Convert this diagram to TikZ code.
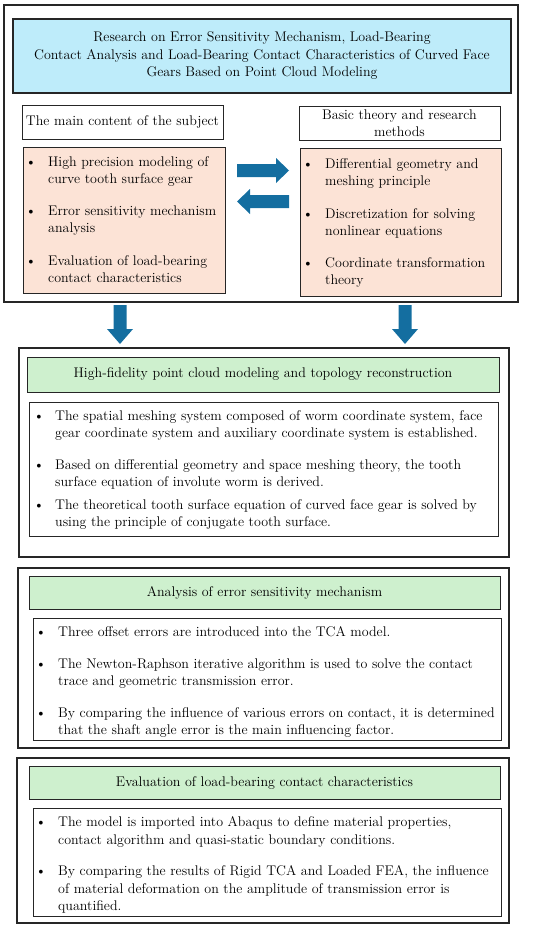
\documentclass[tikz,border=0pt]{standalone}
\usepackage{tikz}
\definecolor{titleblue}{RGB}{190,236,250}
\definecolor{listpink}{RGB}{252,227,214}
\definecolor{headgreen}{RGB}{206,240,206}
\definecolor{arrowblue}{RGB}{20,110,160}
\tikzset{>=stealth,
  outer/.style={draw=black!85, line width=1.2pt},
  frame/.style={draw=black!85, line width=0.9pt},
  hd/.style={frame, align=center, inner sep=0pt},
  bul/.style={anchor=base, inner sep=0pt},
  txt/.style={anchor=north west, align=left, inner sep=0pt},
  blk/.style={fill=arrowblue}}
\newcommand{\bitem}[4]{% bullet x, text x, baseline y, text
  \node[bul] at (#1,#3) {\textbullet};
  \node[txt] at (#2,#3-9.7) {#4};}

\begin{document}
\begin{tikzpicture}[x=1pt, y=-1pt, font=\fontsize{14}{17.5}\selectfont]
    \useasboundingbox (0,0) rectangle (550,931);
    % top part
    \draw[outer] (4,5) rectangle (518,302);
    \node[hd, line width=1.1pt, fill=titleblue, minimum width=498, minimum height=74] (title) at (262,56)
      {Research on Error Sensitivity Mechanism, Load-Bearing\\
       Contact Analysis and Load-Bearing Contact Characteristics of Curved Face\\
       Gears Based on Point Cloud Modeling};
    \node[hd, minimum width=201, minimum height=34] (main) at (122.5,122) {The main content of the subject};
    \node[hd, minimum width=201, minimum height=34] (basic) at (399.5,123) {Basic theory and research\\methods};
    \draw[frame, fill=listpink] (23,147) rectangle (225,293);
    \draw[frame, fill=listpink] (300,148) rectangle (501,296);
    \bitem{31}{48}{166}{High precision modeling of\\curve tooth surface gear}
    \bitem{31}{48}{215}{Error sensitivity mechanism\\analysis}
    \bitem{31}{48}{265}{Evaluation of load-bearing\\contact characteristics}
    \bitem{308}{325}{168}{Differential geometry and\\meshing principle}
    \bitem{308}{325}{218}{Discretization for solving\\nonlinear equations}
    \bitem{308}{325}{267}{Coordinate transformation\\theory}
    % exchange arrows
    \fill[blk] (237,164) -- (276,164) -- (276,158) -- (289,170.5) -- (276,183) -- (276,177) -- (237,177) -- cycle;
    \fill[blk] (289,195) -- (250,195) -- (250,189) -- (237,201.5) -- (250,214) -- (250,208) -- (289,208) -- cycle;
    % down arrows
    \fill[blk] (113.5,305) -- (126.5,305) -- (126.5,329) -- (133,329) -- (120,344) -- (107,329) -- (113.5,329) -- cycle;
    \fill[blk] (398.5,305) -- (411.5,305) -- (411.5,329) -- (418,329) -- (405,344) -- (392,329) -- (398.5,329) -- cycle;
    % point cloud modeling
    \draw[outer] (19,348) rectangle (509,557);
    \node[hd, fill=headgreen, minimum width=472, minimum height=35] (cloud) at (263,374.5)
      {High-fidelity point cloud modeling and topology reconstruction};
    \draw[frame] (29,402) rectangle (498,536);
    \bitem{39}{55}{420}{The spatial meshing system composed of worm coordinate system, face\\
      gear coordinate system and auxiliary coordinate system is established.}
    \bitem{39}{55}{469}{Based on differential geometry and space meshing theory, the tooth\\
      surface equation of involute worm is derived.}
    \bitem{39}{55}{509}{The theoretical tooth surface equation of curved face gear is solved by\\
      using the principle of conjugate tooth surface.}
    % error sensitivity
    \draw[outer] (18,568) rectangle (509,748);
    \node[hd, fill=headgreen, minimum width=471, minimum height=33] (error) at (264.5,592.5)
      {Analysis of error sensitivity mechanism};
    \draw[frame] (33,618) rectangle (501,740);
    \bitem{41}{58}{636}{Three offset errors are introduced into the TCA model.}
    \bitem{41}{58}{668}{The Newton-Raphson iterative algorithm is used to solve the contact\\
      trace and geometric transmission error.}
    \bitem{41}{58}{717}{By comparing the influence of various errors on contact, it is determined\\
      that the shaft angle error is the main influencing factor.}
    % load-bearing contact
    \draw[outer] (17,758) rectangle (509,923);
    \node[hd, fill=headgreen, minimum width=471, minimum height=33] (load) at (264.5,782.5)
      {Evaluation of load-bearing contact characteristics};
    \draw[frame] (33,808) rectangle (501,916);
    \bitem{41}{58}{826}{The model is imported into Abaqus to define material properties,\\
      contact algorithm and quasi-static boundary conditions.}
    \bitem{41}{58}{875}{By comparing the results of Rigid TCA and Loaded FEA, the influence\\
      of material deformation on the amplitude of transmission error is\\quantified.}
\end{tikzpicture}
\end{document}
